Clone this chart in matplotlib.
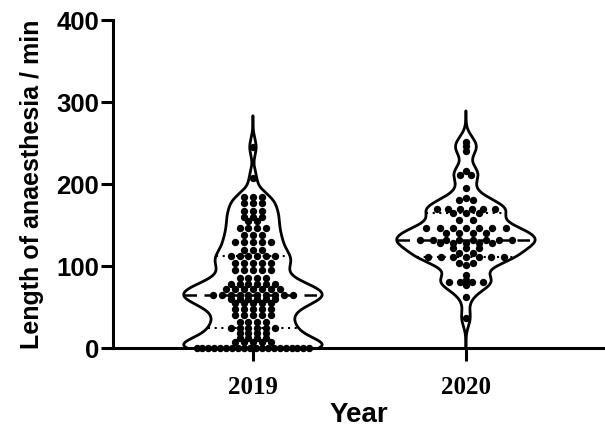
import matplotlib as mpl

mpl.use("Agg")

import matplotlib.pyplot as plt
import numpy as np

YEARS = ["2019", "2020"]

# anaesthesia length (min): row level and number of patients on that row
LEVELS_2019 = [0, 7, 12, 18, 25, 32, 40, 48, 55, 60, 65, 72, 78, 85, 95, 104,
               112, 120, 129, 138, 146, 155, 160, 167, 177, 184, 207, 245]
COUNTS_2019 = [20, 5, 4, 4, 6, 4, 5, 5, 5, 6, 10, 7, 6, 4, 5, 5,
               6, 3, 5, 3, 4, 2, 3, 3, 3, 3, 1, 1]

LEVELS_2020 = [37, 62, 77, 80, 83, 89, 101, 104, 111, 116, 122, 128, 132, 140,
               146, 156, 165, 170, 180, 183, 195, 211, 216, 240, 246, 251]
COUNTS_2020 = [1, 1, 1, 4, 1, 1, 1, 2, 7, 2, 3, 5, 8, 4,
               7, 2, 3, 6, 2, 1, 1, 2, 1, 1, 1, 1]

BANDWIDTH = 10.0
CUT = 3.8
SHAPE_POWER = 0.92
HALF_WIDTH = 0.325

SANS = ["Liberation Sans", "DejaVu Sans"]
SERIF = ["Liberation Serif", "DejaVu Serif"]


def density(data, grid, bw):
    z = (grid[:, None] - data[None, :]) / bw
    return np.exp(-0.5 * z ** 2).sum(axis=1)


def draw_violin(ax, pos, levels, counts, dot_step):
    data = np.repeat(np.asarray(levels, dtype=float), counts)
    grid = np.linspace(data.min() - CUT * BANDWIDTH, data.max() + CUT * BANDWIDTH, 800)
    dens = density(data, grid, BANDWIDTH)
    half = HALF_WIDTH * (dens / dens.max()) ** SHAPE_POWER

    ax.fill_betweenx(grid, pos - half, pos + half, color="white", zorder=1)
    ax.plot(pos - half, grid, color="black", lw=2.0, zorder=3, solid_capstyle="round")
    ax.plot(pos + half, grid, color="black", lw=2.0, zorder=3, solid_capstyle="round")

    def width_at(v):
        return float(np.interp(v, grid, half))

    # rows of dots, spread sideways inside the violin
    for v, n in zip(levels, counts):
        step = min(dot_step, 1.8 * width_at(v) / max(n, 1))
        xs = pos + (np.arange(n) - (n - 1) / 2.0) * step
        ax.scatter(xs, np.full(n, v), s=28, color="black", lw=0, zorder=4, clip_on=False)

    q1, med, q3 = np.percentile(data, [25, 50, 75])
    w = width_at(med)
    ax.plot([pos - w, pos + w], [med, med], color="black", lw=1.8,
            dashes=(5, 3), zorder=5)
    for q in (q1, q3):
        w = width_at(q)
        ax.plot([pos - w, pos + w], [q, q], color="black", lw=1.5,
                dashes=(1, 2.2), zorder=5)


fig = plt.figure(figsize=(6.05, 4.33), dpi=100)
ax = fig.add_axes([113 / 605, 85 / 433, 492 / 605, 328 / 433])

draw_violin(ax, 0, LEVELS_2019, COUNTS_2019, 0.042)
draw_violin(ax, 1, LEVELS_2020, COUNTS_2020, 0.062)

ax.set_xlim(-0.657, 1.653)
ax.set_ylim(0, 400)
ax.set_yticks([0, 100, 200, 300, 400])
ax.set_xticks([0, 1])
ax.set_xticklabels(YEARS, fontfamily=SERIF, fontweight="bold", fontsize=18)
for lab in ax.get_yticklabels():
    lab.set_fontfamily(SANS)
    lab.set_fontweight("bold")
    lab.set_fontsize(18.5)

for side in ("top", "right"):
    ax.spines[side].set_visible(False)
for side in ("left", "bottom"):
    ax.spines[side].set_linewidth(2.2)
    ax.spines[side].set_zorder(6)
ax.tick_params(axis="y", length=9, width=2.2, pad=1)
ax.tick_params(axis="x", length=9, width=2.2, pad=11)

ax.set_ylabel("Length of anaesthesia / min", fontfamily=SANS, fontweight="bold",
              fontsize=18, labelpad=9)
ax.set_xlabel("Year", fontfamily=SANS, fontweight="bold", fontsize=20, labelpad=2)

fig.savefig("out.png", dpi=100, facecolor="white")
